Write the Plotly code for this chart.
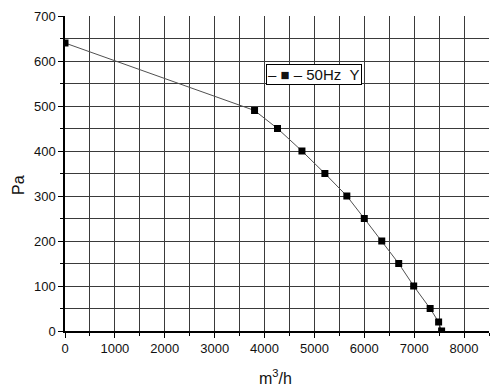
import plotly.graph_objects as go

flow = [0, 3800, 4260, 4750, 5210, 5650, 6000, 6350, 6690, 6990, 7320, 7490, 7550]
pressure = [640, 490, 450, 400, 350, 300, 250, 200, 150, 100, 50, 20, 0]
series_name = "50Hz  Y"

fig = go.Figure()
fig.add_trace(go.Scatter(
    x=flow, y=pressure, mode="lines+markers", name=series_name,
    line=dict(color="#505050", width=1),
    marker=dict(symbol="square", size=7, color="black"),
    cliponaxis=True, showlegend=False,
))

grid = "#3a3a3a"
font = dict(family="Arial, Liberation Sans, sans-serif", size=13, color="#111")
L, R, T, B = 65, 11, 16, 59
fig.update_layout(
    template="none",
    width=500, height=390,
    margin=dict(l=L, r=R, t=T, b=B, autoexpand=False),
    paper_bgcolor="white", plot_bgcolor="white",
    font=font,
    showlegend=False,
    xaxis=dict(range=[0, 8500], dtick=1000, tick0=0, showgrid=True, automargin=False,
               gridcolor=grid, gridwidth=1, ticks="outside", ticklen=5,
               tickcolor="black", showline=True, linecolor="black", linewidth=1.5,
               zeroline=False, tickfont=dict(size=13),
               minor=dict(dtick=500, showgrid=True, gridcolor=grid, gridwidth=1,
                          ticks="outside", ticklen=3, tickcolor="black")),
    yaxis=dict(range=[0, 700], dtick=100, tick0=0, showgrid=True, automargin=False,
               gridcolor=grid, gridwidth=1, ticks="outside", ticklen=5,
               tickcolor="black", showline=True, linecolor="black", linewidth=1.5,
               zeroline=False, tickfont=dict(size=13),
               minor=dict(dtick=50, showgrid=True, gridcolor=grid, gridwidth=1,
                          ticks="outside", ticklen=3, tickcolor="black")),
)
pw, ph = 500 - L - R, 390 - T - B
fig.add_annotation(text="Pa", x=(18 - L) / pw, y=(331 - 185) / ph, xref="paper", yref="paper",
                   xanchor="center", yanchor="middle",
                   showarrow=False, textangle=-90, font=dict(size=16))
fig.add_annotation(text="m<sup>3</sup>/h", x=(275 - L) / pw, y=(331 - 377) / ph,
                   xref="paper", yref="paper", xanchor="center", yanchor="middle",
                   showarrow=False, font=dict(size=16))
# legend box
fig.add_annotation(text="–&nbsp;■&nbsp;–&nbsp;" + series_name.replace("  ", "&nbsp;&nbsp;"),
                   x=(266 - L) / pw, y=(331 - 64) / ph, xref="paper", yref="paper",
                   xanchor="left", yanchor="top", showarrow=False,
                   bgcolor="white", bordercolor="black", borderwidth=1, borderpad=1,
                   font=dict(size=15, color="#111"))

fig.write_html("out.html", config={"displayModeBar": False},
               post_script="document.body.style.margin='0';document.body.style.overflow='hidden';")
